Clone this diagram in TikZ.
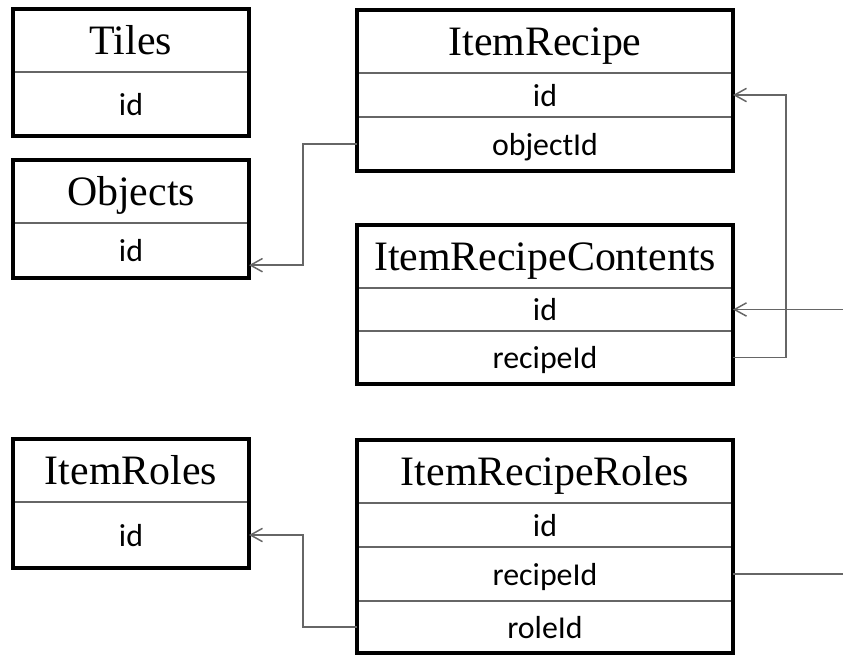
\documentclass[tikz,border=0pt]{standalone}
\usepackage{fontspec}
\setmainfont{Liberation Serif}
\newfontfamily\fieldfont{Carlito}
\usetikzlibrary{positioning}
\usetikzlibrary{arrows.meta}

\begin{document}
\begin{tikzpicture}[x=0.75pt,y=-0.75pt,
  head/.style={draw=black!60,line width=1.5pt,outer sep=0pt,inner sep=0pt,minimum height=47.25pt,text height=20.8pt,text depth=0pt,font=\fontsize{31.4}{36}\selectfont},
  fld/.style={draw=black!60,line width=1.5pt,outer sep=0pt,inner sep=0pt,minimum height=#1,text height=16.5pt,text depth=0pt,font=\fieldfont\fontsize{23.9}{28}\selectfont},
  narrow/.style={minimum width=177pt},
  wide/.style={minimum width=282pt},
  tblframe/.style={draw,line width=3pt},
  conn/.style={draw=black!60,line width=1.1pt},
  fk/.style={conn,-{Straight Barb[length=9pt,width=10pt]}}]
\useasboundingbox (0,0) rectangle (843,654);

\node(T) [head,narrow,anchor=north west] at (13,9) {Tiles};
\node(Tid) [fld=48pt,narrow,below=0pt of T] {id};
\draw[tblframe] (T.north west) rectangle (Tid.south east);

\node(O) [head,narrow,anchor=north west] at (13,160) {Objects};
\node(Oid) [fld=41.25pt,narrow,below=0pt of O] {id};
\draw[tblframe] (O.north west) rectangle (Oid.south east);

\node(IRo) [head,narrow,anchor=north west] at (13,439) {ItemRoles};
\node(IRoid) [fld=49.5pt,narrow,below=0pt of IRo] {id};
\draw[tblframe] (IRo.north west) rectangle (IRoid.south east);

\node(IR) [head,wide,anchor=north west] at (357,10) {ItemRecipe};
\node(IRid) [fld=33pt,wide,below=0pt of IR] {id};
\node(IRobj) [fld=40.5pt,wide,below=0pt of IRid] {objectId};
\draw[tblframe] (IR.north west) rectangle (IRobj.south east);

\node(IRC) [head,wide,anchor=north west] at (357,225) {ItemRecipeContents};
\node(IRCid) [fld=32.25pt,wide,below=0pt of IRC] {id};
\node(IRCrec) [fld=39.75pt,wide,below=0pt of IRCid] {recipeId};
\draw[tblframe] (IRC.north west) rectangle (IRCrec.south east);

\node(IRR) [head,wide,anchor=north west] at (357,440) {ItemRecipeRoles};
\node(IRRid) [fld=33pt,wide,below=0pt of IRR] {id};
\node(IRRrec) [fld=40.5pt,wide,below=0pt of IRRid] {recipeId};
\node(IRRrole) [fld=39pt,wide,below=0pt of IRRrec] {roleId};
\draw[tblframe] (IRR.north west) rectangle (IRRrole.south east);

\coordinate(edge) at (843,0);
\draw[fk] (IRobj.west) -- ++(-54,0) |- ([yshift=-11pt]Oid.east);
\draw[fk] (IRCrec.east) -- ++(53,0) |- (IRid.east);
\draw[fk] (edge |- IRCid.east) -- (IRCid.east);
\draw[conn] (IRRrec.east) -- (edge |- IRRrec.east);
\draw[fk] (IRRrole.west) -- ++(-54,0) |- (IRoid.east);
\end{tikzpicture}
\end{document}
